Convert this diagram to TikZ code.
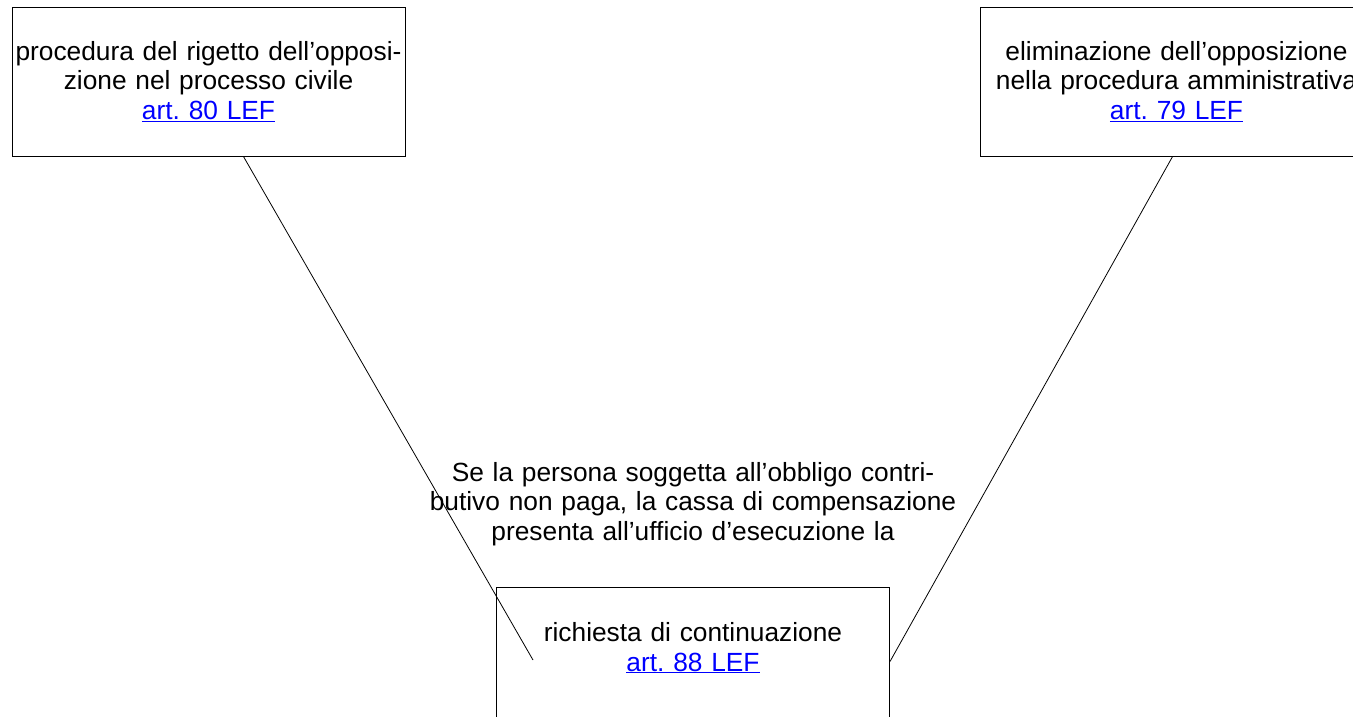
\documentclass[tikz,border=0pt]{standalone}
\usepackage{fontspec}
\setmainfont{Liberation Sans}
\newcommand{\artlink}[1]{\textcolor{blue}{\underline{art.~#1 LEF}}}

\begin{document}
\begin{tikzpicture}[x=1pt, y=1pt,
    box/.style={draw, line width=1pt, text width=393pt, inner sep=0pt,
      minimum height=149pt, align=center,
      font=\fontsize{26.3}{29.3}\selectfont},
    note/.style={text width=540pt, inner sep=0pt, align=center,
      font=\fontsize{26.3}{29.3}\selectfont},
    link/.style={line width=0.8pt}]
  \useasboundingbox (0,0) rectangle (1353,-716);
  \node[box] (rigetto) at (208.5,-81.5)
    {procedura del rigetto dell’opposi-\\zione nel processo civile\\\artlink{80}};
  \node[box] (eliminazione) at (1176.5,-81.5)
    {eliminazione dell’opposizione\\nella procedura amministrativa\\\artlink{79}};
  \node[note] (testo) at (693,-504)
    {Se la persona soggetta all’obbligo contri-\\butivo non paga, la cassa di compensazione\\presenta all’ufficio d’esecuzione la};
  \node[box] (richiesta) at (693,-661.5)
    {richiesta di continuazione\\\artlink{88}\\\mbox{}};
  \coordinate (fine) at (533,-660);
  \draw[link] (rigetto.-65) -- (fine);
  \draw[link] (eliminazione.-93) -- (richiesta.east);
\end{tikzpicture}
\end{document}
